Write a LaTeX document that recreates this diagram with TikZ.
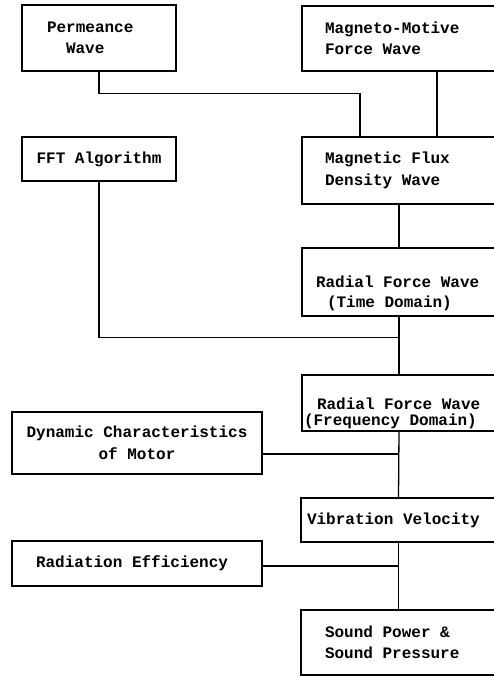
\documentclass[tikz,border=0pt]{standalone}
\usepackage{fontspec}
\setmonofont{Liberation Mono}
\usetikzlibrary{calc}

\begin{document}
\begin{tikzpicture}[x=1pt, y=-1pt, line width=1.3pt,
        box/.style={draw, rectangle, inner sep=0pt, font=\ttfamily\bfseries\fontsize{16}{21.5}\selectfont},
        lbox/.style={box, minimum width=154pt},
        wbox/.style={box, minimum width=250pt},
        rbox/.style={box, minimum width=194pt, align=flush left, text width=#1}]
        \useasboundingbox (0,0) rectangle (494,676);
        \node[lbox, minimum height=66pt, align=flush left, text width=104pt] (perm) at (99,38) {Permeance\\\hspace*{19pt}Wave};
        \node[rbox=148pt, minimum height=65pt] (mmf) at (399,38.5) {Magneto-Motive\\Force Wave};
        \node[lbox, minimum height=44pt, align=center] (fft) at (99,159) {FFT Algorithm};
        \node[rbox=148pt, minimum height=67pt] (flux) at (399,170.5) {Magnetic Flux\\Density Wave};
        \node[rbox=166pt, minimum height=68pt] (rtime) at (399,282) {\rule{0pt}{35pt}Radial Force Wave\\[-1.5pt]\hspace*{11pt}(Time Domain)};
        \node[rbox=190pt, minimum height=56pt] (rfreq) at (399,403) {\rule{0pt}{33pt}\hspace*{13pt}Radial Force Wave\\[-5.5pt](Frequency Domain)};
        \node[wbox, minimum height=62pt, align=center] (dyn) at (137,443) {Dynamic Characteristics\\of Motor};
        \node[rbox=183pt, minimum width=195pt, minimum height=44pt] (vib) at (398.5,520) {Vibration Velocity};
        \node[wbox, minimum height=45pt, align=flush left, text width=202pt] (rad) at (137,563.5) {Radiation Efficiency};
        \node[rbox=147pt, minimum width=195pt, minimum height=65pt] (sound) at (398.5,642.5) {Sound Power \&\\Sound Pressure};
        \coordinate (fftjoin) at ($(rtime.south)+(0,21)$);
        \coordinate (dynjoin) at ([yshift=-11pt]dyn.east);
        \coordinate (radjoin) at ([yshift=-2.5pt]rad.east);
        \draw (perm.south) -- ++(0,22) -| ([xshift=-39pt]flux.north);
        \draw ([xshift=38pt]mmf.south) -- ([xshift=38pt]flux.north);
        \draw (flux.south) -- (rtime.north);
        \draw (fft.south) |- (fftjoin);
        \draw (rtime.south) -- (rfreq.north);
        \draw (rfreq.south) -- (vib.north);
        \draw (dynjoin) -- (dynjoin -| vib.north);
        \draw (vib.south) -- (sound.north);
        \draw (radjoin) -- (radjoin -| vib.north);
\end{tikzpicture}
\end{document}
